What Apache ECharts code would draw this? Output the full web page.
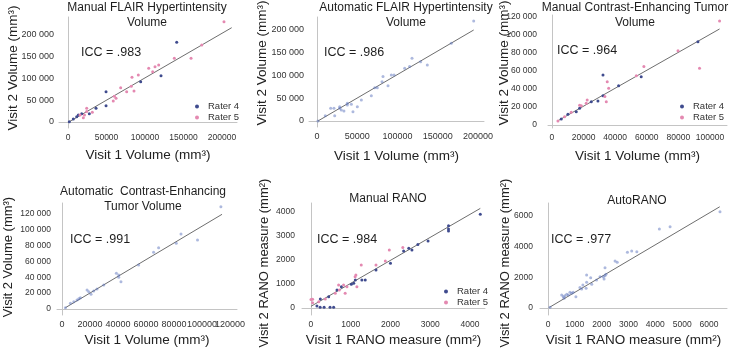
<!DOCTYPE html>
<html>
<head>
<meta charset="utf-8">
<script src="https://cdn.jsdelivr.net/npm/echarts@6/dist/echarts.min.js"></script>
<style>
  html, body { margin: 0; padding: 0; background: #fff; }
  #chart { width: 729px; height: 348px; }
</style>
</head>
<body>
<div id="chart"></div>
<script>
// values, [visit 1, visit 2]
const manualFlairR4 = [[141200,183200],[120800,106400],[94400,92700],[49400,69700],[49400,37500],[36400,31500],[17800,19100],[13400,16100],[6900,6900],[1700,700],[27700,19100],[11300,12200]];
const manualFlairR5 = [[202600,230600],[173700,177000],[138100,146400],[159800,146400],[104800,123400],[117800,131000],[113000,127200],[110000,115600],[91300,108000],[83100,102700],[68400,78900],[82200,82000],[76200,69700],[85700,71300],[60200,59000],[58800,48300],[62400,54500],[24300,31500],[31600,22300],[24300,24000],[21400,16100],[19900,9900],[15600,16100]];
const autoFlair = [[194600,219800],[166800,170800],[137000,123100],[118000,137800],[108900,115800],[115000,120000],[128700,130400],[88200,77600],[82000,97600],[92300,101100],[95700,101100],[74900,73200],[71700,73200],[80800,86400],[67500,55600],[55100,46200],[50100,31400],[37700,38900],[37700,35000],[28200,31400],[30200,24200],[28200,28000],[21100,27900],[42700,36700],[17000,27900],[22000,11700],[10300,11700],[1200,0],[44700,20400],[33500,22000]];
const manualCeR4 = [[92400,92500],[56500,53700],[32300,55600],[32300,32600],[29100,26700],[17500,18600],[15400,14800],[10100,11900],[24900,25900],[5900,6700],[42200,43700]];
const manualCeR5 = [[106100,115500],[93400,63000],[79800,82600],[58200,64900],[53400,54800],[35000,48100],[35900,40800],[34400,25900],[33500,31800],[22300,27800],[21700,24100],[18600,21500],[12200,14100],[8000,9200],[3800,4400],[17500,22000]];
const autoCe = [[113500,129200],[85000,94700],[81600,82900],[96800,87100],[69000,77400],[65400,71600],[54700,55600],[40500,42900],[38800,45000],[42100,34500],[40500,40000],[29800,30300],[25000,25300],[22600,22700],[19100,21800],[17900,24000],[20700,18600],[13100,14300],[10700,11400],[8400,9200],[6000,7200],[2400,1600],[12000,13000]];
const manualRanoR4 = [[4260,3904],[3460,3430],[3460,3290],[3460,3210],[2945,2790],[2690,2650],[2460,2490],[2540,2420],[2330,2380],[2000,1860],[1635,1580],[1280,1170],[1365,1170],[1075,1030],[1015,990],[765,890],[655,750],[445,470],[235,375],[150,83],[230,30],[330,30],[480,30],[570,30],[1115,1170]];
const manualRanoR5 = [[2310,2520],[1970,2420],[1870,1960],[1635,1790],[1265,1790],[1130,1375],[1110,1300],[1155,890],[905,890],[860,610],[820,960],[695,960],[712,750],[612,610],[360,375],[195,262],[40,360],[40,220],[0,350]];
const autoRano = [[6410,6280],[4550,5300],[4150,5150],[3310,3670],[3120,3720],[2960,3630],[2580,2980],[2500,3060],[2125,2630],[2160,2200],[2125,2110],[2060,2040],[2090,1890],[1940,2040],[1810,1830],[1440,2150],[1590,1980],[1440,1680],[1630,1550],[1300,1500],[1190,1330],[1255,1240],[940,1020],[880,960],[820,1020],[760,850],[700,890],[630,800],[570,730],[510,850],[600,630],[1040,730],[1420,1280],[75,45]];

// fitted lines (end points)
const fitLines = [
  [[1700,700],[212600,216800]],
  [[1200,0],[194600,200000]],
  [[3400,4400],[106100,106700]],
  [[2400,1600],[114300,119600]],
  [[0,70],[4260,4150]],
  [[50,40],[6400,6600]]
];

const titles = [
  'Manual FLAIR Hypertintensity\nVolume',
  'Automatic FLAIR Hypertintensity\nVolume',
  'Manual Contrast-Enhancing Tumor\nVolume',
  'Automatic  Contrast-Enhancing\nTumor Volume',
  'Manual RANO',
  'AutoRANO'
];
const iccLabels = ['ICC = .983', 'ICC = .986', 'ICC = .964', 'ICC = .991', 'ICC = .984', 'ICC = .977'];
const xNames = ['Visit 1 Volume (mm³)', 'Visit 1 Volume (mm³)', 'Visit 1 Volume (mm³)',
  'Visit 1 Volume (mm³)', 'Visit 1 RANO measure (mm²)', 'Visit 1 RANO measure (mm²)'];
const yNames = ['Visit 2 Volume (mm³)', 'Visit 2 Volume (mm³)', 'Visit 2 Volume (mm³)',
  'Visit 2 Volume (mm³)', 'Visit 2 RANO measure (mm²)', 'Visit 2 RANO measure (mm²)'];

const xTicks = [
  [0,50000,100000,150000,200000],
  [0,50000,100000,150000,200000],
  [0,20000,40000,60000,80000,100000],
  [0,40000,80000,120000],
  [0,1000,2000,3000,4000],
  [0,1000,2000,3000,4000,5000,6000]
];
// the crowded bottom-left axis: every other label goes on a second, line-less axis
const xTicksPanel4Alt = [20000,60000,100000];
const yTicks = [
  [0,50000,100000,150000,200000],
  [0,50000,100000,150000,200000],
  [0,20000,40000,60000,80000,100000,120000],
  [0,20000,40000,60000,80000,100000,120000],
  [0,1000,2000,3000,4000],
  [0,2000,4000,6000]
];

// panel layout: grid box, axis ranges, label sizes/margins, text positions
const panels = [
  { grid: [59,17,178,111], x: [-11700,219500], y: [-13800,241400], xGap: 20, xFont: 8.5, yFont: 9, yMargin: 5, yName: [13,68], yNameSize: 13.5, title: [147,0], icc: [81,46] },
  { grid: [309,17,175,110], x: [-9900,207400], y: [-13200,228600], xGap: 22, xFont: 9, yFont: 9, yMargin: 5, yName: [262,63], yNameSize: 13.5, title: [406,0], icc: [324,46] },
  { grid: [548,15,179,113], x: [-2500,110800], y: [-3300,122200], xGap: 21, xFont: 8.5, yFont: 8.5, yMargin: 11, yName: [504,63], yNameSize: 13.5, title: [635,0], icc: [557,44] },
  { grid: [57,203,180,112], x: [-3600,125000], y: [-7600,133900], xGap: 18, xFont: 9, yFont: 8.5, yMargin: 6, yName: [8,257], yNameSize: 13, title: [143,184], icc: [70,233] },
  { grid: [302,203,183,112], x: [-226,4378], y: [-292,4375], xGap: 18, xFont: 8.5, yFont: 8.5, yMargin: 7, yName: [264,263], yNameSize: 13, title: [388,191], icc: [317,233] },
  { grid: [540,203,187,112], x: [-298,6671], y: [-456,6846], xGap: 18, xFont: 8.5, yFont: 8.5, yMargin: 7, yName: [505,263], yNameSize: 13, title: [637,193], icc: [551,233] }
];

const font = '"Liberation Sans", Arial, Helvetica, sans-serif';
const r4Color = '#3f4b8e';
const r5Color = '#e489b1';
const autoColor = '#5b74bd';

function spaced(v) {
  return String(v).replace(/\B(?=(\d{3})+(?!\d))/g, ' ');
}

const grid = [], xAxis = [], yAxis = [], series = [], graphic = [];

panels.forEach(function (p, i) {
  grid.push({ left: p.grid[0], top: p.grid[1], width: p.grid[2], height: p.grid[3] });
  const volume = i < 4;
  xAxis.push({
    gridIndex: i, type: 'value', min: p.x[0], max: p.x[1],
    name: xNames[i], nameLocation: 'middle', nameGap: p.xGap,
    nameTextStyle: { fontSize: 13.5, color: '#222', fontFamily: font },
    axisLine: { lineStyle: { color: '#c4c4c4' } },
    axisTick: { show: false },
    splitLine: { show: false },
    axisLabel: {
      customValues: xTicks[i], margin: 5, fontSize: p.xFont, color: '#333', fontFamily: font,
      hideOverlap: false, showMinLabel: true, showMaxLabel: true,
      formatter: function (v) { return String(v); }
    }
  });
  yAxis.push({
    gridIndex: i, type: 'value', min: p.y[0], max: p.y[1],
    axisLine: { show: true, lineStyle: { color: '#c4c4c4' } },
    axisTick: { show: false },
    splitLine: { show: false },
    axisLabel: {
      customValues: yTicks[i], margin: p.yMargin, fontSize: p.yFont, color: '#333', fontFamily: font,
      hideOverlap: false, showMinLabel: true, showMaxLabel: true,
      formatter: function (v) { return volume ? spaced(v) : String(v); }
    }
  });
  series.push({
    type: 'line', xAxisIndex: i, yAxisIndex: i, data: fitLines[i],
    symbol: 'none', silent: true, z: 1,
    lineStyle: { color: '#6e6e6e', width: 1 }
  });
  graphic.push({
    type: 'text', x: p.title[0], y: p.title[1],
    style: { text: titles[i], align: 'center', verticalAlign: 'top', fontSize: 12,
      lineHeight: 15, fontFamily: font, fill: '#1e1e1e' }
  });
  graphic.push({
    type: 'text', x: p.icc[0], y: p.icc[1],
    style: { text: iccLabels[i], align: 'left', verticalAlign: 'top', fontSize: 12.5,
      fontFamily: font, fill: '#1e1e1e' }
  });
  // vertical axis title
  graphic.push({
    type: 'text', x: p.yName[0], y: p.yName[1], rotation: Math.PI / 2,
    style: { text: yNames[i], align: 'center', verticalAlign: 'middle', fontSize: p.yNameSize,
      fontFamily: font, fill: '#222' }
  });
});

// second x axis on panel 4, labels only
xAxis.push({
  gridIndex: 3, type: 'value', position: 'bottom', min: panels[3].x[0], max: panels[3].x[1],
  axisLine: { show: false }, axisTick: { show: false }, splitLine: { show: false },
  axisLabel: {
    customValues: xTicksPanel4Alt, margin: 5, fontSize: 9, color: '#333', fontFamily: font,
    hideOverlap: false, formatter: function (v) { return String(v); }
  }
});

function dots(name, idx, data, color, opacity) {
  return {
    name: name, type: 'scatter', xAxisIndex: idx, yAxisIndex: idx, data: data,
    symbolSize: 3, z: 3,
    itemStyle: { color: color, opacity: opacity }
  };
}

series.push(dots('Rater 4', 0, manualFlairR4, r4Color, 1));
series.push(dots('Rater 5', 0, manualFlairR5, r5Color, 1));
series.push(dots('auto flair', 1, autoFlair, autoColor, 0.5));
series.push(dots('Rater 4', 2, manualCeR4, r4Color, 1));
series.push(dots('Rater 5', 2, manualCeR5, r5Color, 1));
series.push(dots('auto ce', 3, autoCe, autoColor, 0.5));
series.push(dots('Rater 4', 4, manualRanoR4, r4Color, 1));
series.push(dots('Rater 5', 4, manualRanoR5, r5Color, 1));
series.push(dots('auto rano', 5, autoRano, autoColor, 0.5));

function raterLegend(left, top) {
  return {
    data: ['Rater 4', 'Rater 5'], left: left, top: top, orient: 'vertical',
    icon: 'circle', itemWidth: 4, itemHeight: 4, itemGap: 0, padding: 0,
    selectedMode: false,
    textStyle: { fontSize: 9.5, lineHeight: 11, color: '#333', fontFamily: font, padding: [0, 0, 0, 4] }
  };
}

const option = {
  animation: false,
  backgroundColor: '#fff',
  textStyle: { fontFamily: font },
  grid: grid,
  xAxis: xAxis,
  yAxis: yAxis,
  legend: [raterLegend(195, 101), raterLegend(680, 101), raterLegend(444, 286)],
  graphic: graphic,
  series: series
};

const chart = echarts.init(document.getElementById('chart'), null, { renderer: 'canvas' });
chart.setOption(option);
</script>
</body>
</html>
